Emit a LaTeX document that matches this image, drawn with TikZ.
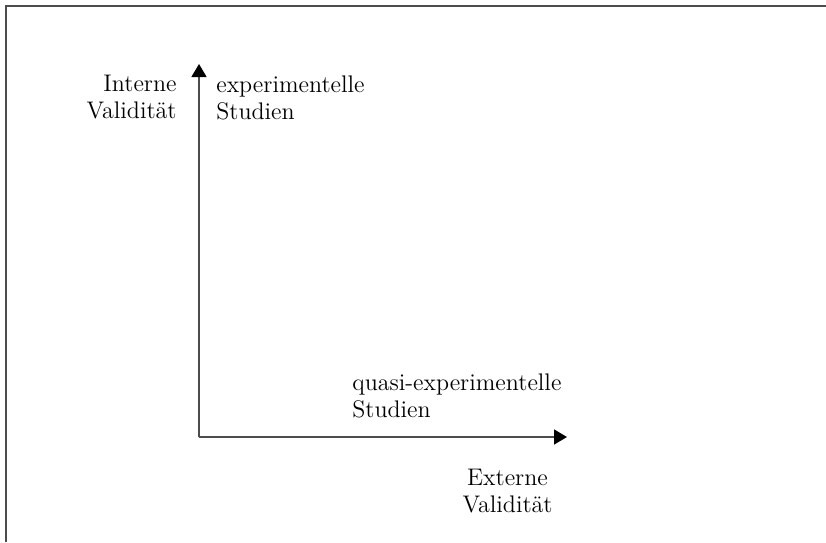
\documentclass[tikz,border=0pt]{standalone}
\usepackage{tikz}
\usetikzlibrary{positioning,arrows.meta}

\begin{document}
\begin{tikzpicture}[
    x=0.5pt, y=-0.5pt,
    axis/.style = {draw=black!70, line width=0.75pt, -{Triangle[width=7.5pt,length=6.5pt,color=black]}},
    frame/.style = {draw=black!70, line width=1pt},
    label/.style = {inner sep=0pt, font=\fontsize{12}{13.5}\selectfont},
    node distance = 5pt
    ]
    \useasboundingbox (0,0) rectangle (826,542);
    \draw[frame] (6,542) -- (6,6) -- (826,6);

    \coordinate (origin) at (199,437);
    \coordinate (ytip) at (199,64);
    \coordinate (xtip) at (567,437);

    \node[label, align=right, below left=5.5pt and 11pt of ytip] (intval) {Interne\\Validität};
    \node[label, align=left, below right=5.5pt and 8.5pt of ytip] (exp) {experimentelle\\Studien};
    \node[label, align=left, anchor=north west] (quasi) at (352,373) {quasi-experimentelle\\Studien};
    \node[label, align=center, below left=16pt and 7pt of xtip] (extval) {Externe\\Validität};

    \draw[axis] (origin) -- (ytip);
    \draw[axis] (origin) -- (xtip);
  \end{tikzpicture}
\end{document}
